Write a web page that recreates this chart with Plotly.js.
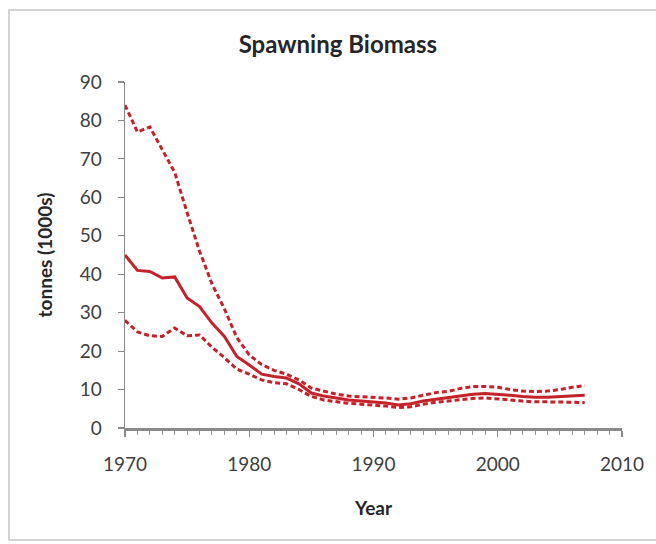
<!DOCTYPE html>
<html>
<head>
<meta charset="utf-8">
<script src="https://cdn.plot.ly/plotly-3.0.1.min.js"></script>
<style>
html,body{margin:0;padding:0;background:#fff;overflow:hidden;}
#chart{position:absolute;left:0;top:0;width:656px;height:544px;}
#frame{position:absolute;left:8px;top:9px;width:680px;height:532px;border:2px solid #d4d4d4;pointer-events:none;box-sizing:border-box;}
</style>
</head>
<body>
<div id="chart"></div>
<div id="frame"></div>
<script>
const years = [1970,1971,1972,1973,1974,1975,1976,1977,1978,1979,
               1980,1981,1982,1983,1984,1985,1986,1987,1988,1989,
               1990,1991,1992,1993,1994,1995,1996,1997,1998,1999,
               2000,2001,2002,2003,2004,2005,2006,2007];
const biomassMid = [45,41,40.7,39,39.3,33.8,31.6,27.3,23.8,18.6,
                    16.4,14,13.4,13,11.5,9.1,8.3,7.8,7.3,7,
                    6.8,6.5,6,6.3,7,7.5,7.8,8.3,8.8,9,
                    8.8,8.5,8.2,8,8,8.2,8.4,8.5];
const biomassUpper = [84,77,78.3,72.5,66.5,56,46,37.5,31,23.5,
                      19,16.5,15,14,12.5,10.4,9.5,8.8,8.3,8.2,
                      8,7.8,7.5,7.8,8.5,9.2,9.5,10.3,10.8,10.8,
                      10.6,10,9.6,9.5,9.6,10,10.6,11];
const biomassLower = [28,25,24,23.8,26,24,24.2,21,18.3,15.3,
                      14,12.5,11.8,11.5,10,8.2,7.3,6.8,6.4,6.2,
                      6,5.7,5.3,5.5,6.2,6.7,7,7.4,7.7,7.8,
                      7.6,7.3,7,6.8,6.8,6.8,6.7,6.6];
const yTicks = [0,10,20,30,40,50,60,70,80,90];
const xTicks = [1970,1980,1990,2000,2010];

const red = '#c4222a';
const traces = [
  {x: years, y: biomassUpper, mode: 'lines', line: {color: red, width: 3, dash: '5px,3px'}, hoverinfo: 'skip'},
  {x: years, y: biomassLower, mode: 'lines', line: {color: red, width: 3, dash: '5px,3px'}, hoverinfo: 'skip'},
  {x: years, y: biomassMid, mode: 'lines', line: {color: red, width: 3}, hoverinfo: 'skip'}
];
const fontFam = 'Lato, "Open Sans", sans-serif';
const layout = {
  width: 656, height: 544,
  margin: {l: 125, r: 34, t: 82, b: 116},
  paper_bgcolor: '#fff', plot_bgcolor: '#fff',
  showlegend: false,
  font: {family: fontFam, color: '#404040', size: 18},
  title: {text: '<b>Spawning Biomass</b>', font: {family: fontFam, size: 24, color: '#262626'},
          x: 0.515, xref: 'container', xanchor: 'center', y: 1 - 45/544, yref: 'container', yanchor: 'middle'},
  xaxis: {
    range: [1970, 2010], tickvals: xTicks, ticktext: xTicks.map(String),
    showgrid: false, zeroline: false, showline: true, linecolor: '#8a8a8a', linewidth: 2.5,
    ticks: 'outside', ticklen: 6, tickwidth: 1.2, tickcolor: '#8a8a8a',
    minor: {dtick: 1, ticks: 'outside', ticklen: 4, tickwidth: 1, tickcolor: '#9a9a9a', showgrid: false},
    ticklabelstandoff: 12,
    tickfont: {size: 19, color: '#404040'},
    title: {text: '<b>Year</b>', font: {size: 19, color: '#262626'}, standoff: 28}
  },
  yaxis: {
    range: [0, 90], tickvals: yTicks, ticktext: yTicks.map(String),
    showgrid: false, zeroline: false, showline: true, linecolor: '#8a8a8a', linewidth: 1.5,
    ticks: 'outside', ticklen: 6, tickwidth: 1.2, tickcolor: '#8a8a8a',
    ticklabelstandoff: 12,
    tickfont: {size: 19, color: '#404040'},
    title: {text: '<b>tonnes (1000s)</b>', font: {size: 19, color: '#262626'}, standoff: 22}
  }
};
Plotly.newPlot('chart', traces, layout, {staticPlot: true, displayModeBar: false});
</script>
</body>
</html>
